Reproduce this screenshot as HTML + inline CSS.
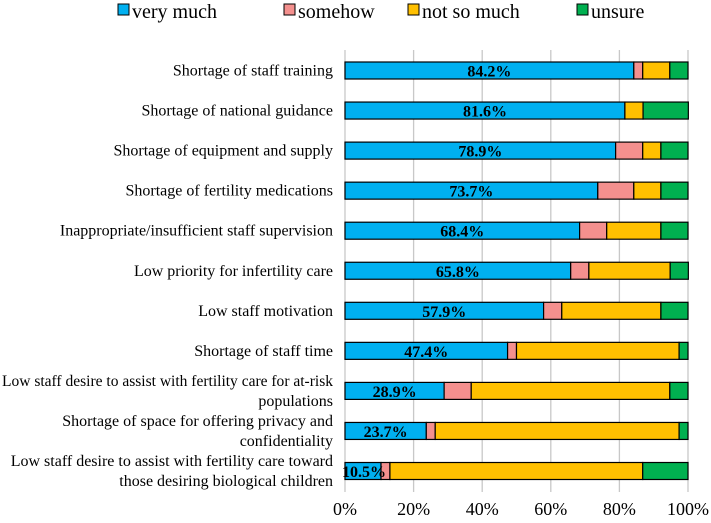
<!DOCTYPE html>
<html><head><meta charset="utf-8"><style>
body{margin:0;background:#fff;width:711px;height:518px;overflow:hidden}
svg text{font-family:"Liberation Serif",serif}
</style></head><body>
<svg width="711" height="518">
<g id="grid"></g><g id="bars"></g><g id="labels"></g><g id="xticks"></g>
<g>
<rect x="118" y="4" width="11" height="11" fill="#00b0f0" stroke="#000"/>
<text x="132" y="18" font-size="20">very much</text>
<rect x="284" y="4" width="11" height="11" fill="#f4908e" stroke="#000"/>
<text x="298" y="18" font-size="20">somehow</text>
<rect x="408" y="4" width="11" height="11" fill="#ffc000" stroke="#000"/>
<text x="422" y="18" font-size="20">not so much</text>
<rect x="577" y="4" width="11" height="11" fill="#00b050" stroke="#000"/>
<text x="591" y="18" font-size="20">unsure</text>
</g>
</svg>
<script>
const categories=[["Shortage of staff training"],["Shortage of national guidance"],["Shortage of equipment and supply"],["Shortage of fertility medications"],["Inappropriate/insufficient staff supervision"],["Low priority for infertility care"],["Low staff motivation"],["Shortage of staff time"],["Low staff desire to assist with fertility care for at-risk","populations"],["Shortage of space for offering privacy and","confidentiality"],["Low staff desire to assist with fertility care toward","those desiring biological children"]];
const veryMuch=[84.2,81.6,78.9,73.7,68.4,65.8,57.9,47.4,28.9,23.7,10.5];
const somehow=[2.6,0,7.9,10.5,7.9,5.3,5.3,2.6,7.9,2.6,2.6];
const notSoMuch=[7.9,5.3,5.3,7.9,15.8,23.7,28.9,47.4,57.9,71.1,73.7];
const unsure=[5.3,13.2,7.9,7.9,7.9,5.3,7.9,2.6,5.3,2.6,13.2];
const ticks=[0,20,40,60,80,100];
const NS="http://www.w3.org/2000/svg";
const x0=345,x1=688,yTop=50,yBot=492,row0=70.5,step=40.05,bh=17;
const xs=v=>x0+(x1-x0)*v/100;
const ys=i=>row0+i*step;
function mk(tag,attrs,parent){const e=document.createElementNS(NS,tag);for(const k in attrs)e.setAttribute(k,attrs[k]);document.getElementById(parent).appendChild(e);return e;}
ticks.forEach(t=>{
 const l=mk('line',{x1:xs(t),x2:xs(t),y1:yBot,y2:yTop,stroke:'#c8c8c8','stroke-width':1.3},'grid');
 
 
 const tx=mk('text',{x:xs(t),y:515,'text-anchor':'middle','font-size':'18'},'xticks');
 tx.textContent=t+'%';
 
 
});
const series=[[veryMuch,'#00b0f0','very-much'],[somehow,'#f4908e','somehow'],[notSoMuch,'#ffc000','not-so-much'],[unsure,'#00b050','unsure']];
categories.forEach((c,i)=>{
 let acc=0;const y=ys(i);
 series.forEach(([arr,col,nm])=>{
  const v=arr[i];
  if(v>0){const r=mk('rect',{x:xs(acc),y:y-bh/2,width:xs(acc+v)-xs(acc),height:bh,fill:col,stroke:'#000','stroke-width':1.2},'bars');
  
  }
  acc+=v;
 });
 const vt=mk('text',{x:Math.max(xs(veryMuch[i]/2),xs(0)+19),y:y+6,'text-anchor':'middle','font-size':'16','font-weight':'bold'},'labels');
 vt.textContent=veryMuch[i].toFixed(1)+'%';
 
 
 const n=c.length;
 c.forEach((line,j)=>{
  const t=mk('text',{x:xs(0)-12,y:y+5+(j-(n-1)/2)*20,'text-anchor':'end','font-size':'16'},'labels');
  t.textContent=line;
  
  
  if(t.getComputedTextLength()>331){t.setAttribute('textLength','331');t.setAttribute('lengthAdjust','spacingAndGlyphs');}
 });
});
</script>
</body></html>
